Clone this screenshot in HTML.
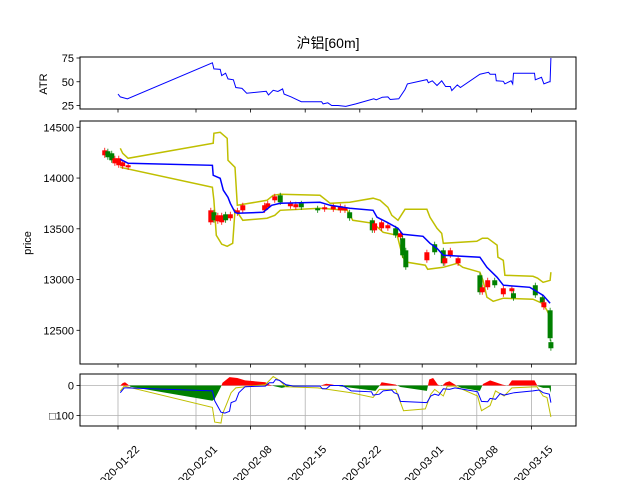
<!DOCTYPE html>
<html><head><meta charset="utf-8"><style>
body{margin:0;background:#fff;}
svg{display:block;font-family:"Liberation Sans","WenQuanYi Zen Hei",sans-serif;}
</style></head><body>
<svg id="chart" width="640" height="480" viewBox="0 0 640 480" xmlns="http://www.w3.org/2000/svg"></svg>
<script>
// ---- data ----
const xTickDays = [0, 10, 17, 24, 31, 39, 46, 53];
const xTickLabels = ["2020-01-22","2020-02-01","2020-02-08","2020-02-15","2020-02-22","2020-03-01","2020-03-08","2020-03-15"];
const atrTicks = [25, 50, 75];
const priceTicks = [12500, 13000, 13500, 14000, 14500];
const macdTicks = [0, -100];
const macdTickLabels = ["0", "□100"];

const atrDays = [0,0.3,1.2,12.1,12.3,13.1,13.3,13.8,14.1,14.8,15.1,15.9,16.5,19.0,19.3,19.9,20.5,21.1,21.3,22.2,22.7,23.5,26.1,26.3,26.9,27.4,28.2,29.2,30.5,32.8,33.1,33.9,34.6,34.9,36.0,36.8,37.1,39.6,39.8,40.3,40.9,41.5,42.0,42.6,42.8,43.5,43.9,46.4,47.5,47.7,48.4,48.5,49.4,49.6,50.4,50.6,50.7,53.4,53.5,54.3,54.6,55.3,55.4,55.5];
const atrValues = [37,34,32,70,63.5,63,56.5,59,53,52,44,43,38,40,36,41,39.7,42.5,37,34,32,29,29,26.7,27.8,25,25,24,26.7,32,31,33.7,34,31.3,32,41.8,47.7,52.3,49,51,46,51,45,45,40.7,46.7,44,58,60,58,58,51,50.5,47.7,51,47.7,59,59,52,54.7,47.7,50,50,75];

const candleDays = [-1.7,-1.3,-0.8,-0.4,0.1,0.6,1.3,11.9,12.3,12.8,13.3,13.8,14.4,15.3,16.0,18.8,19.2,20.1,20.8,22.1,22.8,23.5,25.6,26.5,27.6,28.5,29.1,29.7,32.6,32.9,33.8,34.6,35.6,36.2,36.5,36.9,39.6,40.6,41.7,41.9,42.6,43.6,46.4,46.7,47.4,48.3,49.4,50.5,50.7,53.5,54.4,54.6,55.4,55.5];
const candleOpen = [14224,14264,14244,14145,14126,14116,14106,13564,13663,13574,13564,13643,13604,13653,13682,13682,13712,13781,13830,13722,13712,13751,13702,13692,13692,13682,13682,13663,13584,13485,13505,13505,13505,13417,13407,13288,13190,13348,13288,13160,13239,13160,13042,12875,12924,12993,12855,12885,12865,12944,12826,12727,12697,12383];
const candleClose = [14273,14205,14175,14195,14195,14155,14126,13682,13584,13633,13633,13584,13643,13682,13732,13732,13751,13820,13761,13751,13742,13712,13682,13712,13722,13722,13712,13604,13485,13554,13564,13535,13436,13456,13239,13121,13269,13269,13160,13210,13288,13210,12875,12924,12993,12944,12914,12914,12816,12845,12776,12776,12422,12323];

const midDays = [0.3,1.3,12.1,12.2,13.1,13.5,14.1,14.4,15.0,15.3,18.6,19.7,20.8,25.9,27.2,29.7,32.7,33.2,34.5,35.9,36.5,39.1,40.0,40.9,41.7,46.4,47.3,48.6,49.4,52.8,54.5,55.4];
const midValues = [14185,14145,14126,14027,13998,13880,13810,13751,13663,13653,13663,13732,13751,13761,13732,13702,13682,13614,13564,13505,13446,13426,13357,13308,13239,13220,13121,13022,12944,12924,12845,12766];

const upDays = [0.3,0.6,1.3,12.2,12.3,13.1,14.0,14.1,15.0,15.3,19.1,19.9,20.8,25.9,27.2,29.7,32.7,33.6,34.6,35.1,35.9,36.8,39.6,40.0,40.9,41.5,41.7,46.0,46.7,47.4,48.6,48.7,49.4,49.6,53.2,53.8,54.5,55.4,55.5];
const upValues = [14293,14244,14195,14342,14441,14451,14392,14175,14106,13732,13781,13830,13840,13830,13751,13761,13801,13781,13712,13633,13584,13692,13692,13613,13505,13456,13357,13377,13407,13407,13338,13220,13190,13042,13032,13013,12973,12993,13072];

const lowDays = [0.3,12.1,12.3,12.6,13.3,14.0,14.7,15.0,15.4,16.0,19.1,20.1,20.8,25.9,29.4,30.1,32.7,34.0,35.8,36.5,37.1,39.4,39.7,41.7,43.5,44.2,46.4,46.8,47.3,48.1,49.4,53.2,54.4,55.0,55.4,55.5];
const lowValues = [14106,13909,13781,13436,13348,13328,13357,13682,13653,13584,13604,13633,13682,13702,13682,13584,13554,13466,13436,13220,13170,13141,13101,13121,13160,13121,13072,12993,12826,12786,12816,12806,12766,12697,12628,12432];

const macdBlueDays = [0.3,0.8,1.1,12.1,12.4,13.2,13.7,14.3,14.5,15.1,15.5,16.3,18.9,19.4,19.9,20.2,20.7,21.5,22.5,25.9,26.2,26.7,27.2,28.8,29.9,32.5,32.7,33.5,34.0,35.1,35.4,35.9,36.2,39.6,40.1,40.6,41.1,41.7,42.5,43.2,44.8,46.1,46.6,47.4,47.7,48.4,49.0,49.5,50.8,53.2,54.0,54.5,55.3,55.5];
const macdBlueValues = [-24,-8,-8,-18,-51,-89,-92,-86,-57,-51,-24,-4,-2,9,9,20,17,3,-2,-2,-11,-11,0,0,-18,-21,-32,-29,-18,-15,-24,-29,-53,-57,-35,-29,-33,-11,-13,-8,-15,-21,-53,-54,-43,-46,-27,-32,-24,-18,-15,-24,-29,-57];
const macdYellowDays = [0.3,0.8,12.1,12.4,13.2,13.4,14.0,14.5,15.1,16.3,18.9,19.9,20.7,21.5,25.6,29.9,32.7,33.5,35.6,36.6,39.4,40.1,40.6,41.7,42.2,43.2,46.1,46.6,47.7,48.4,49.5,50.5,53.7,54.5,55.0,55.5];
const macdYellowValues = [-18,-2,-73,-122,-125,-95,-57,-24,-8,-4,3,30,17,-4,-8,-24,-40,-13,-13,-84,-78,-29,-13,-35,-2,-2,-35,-84,-67,-18,-35,-8,-4,-35,-40,-105];
const histDays = [0.3,0.6,0.9,1.3,1.6,12.1,12.4,13.2,13.4,14.3,15.3,16.3,18.9,19.4,20.0,21.0,22.0,26.0,26.7,27.5,28.5,33.0,33.5,33.8,35.6,36.2,39.6,39.9,40.4,41.0,41.5,42.0,42.5,43.2,44.0,46.4,46.8,47.7,49.3,50.0,50.5,53.4,53.8,54.5,55.3,55.5];
const histValues = [0,8,11,3,-4,-51,-45,-4,9,28,25,17,11,3,-2,-8,-2,0,6,3,-3,-18,-2,11,3,-5,-18,20,25,3,-2,10,14,3,-8,-18,5,17,3,-1,17,17,-2,-8,-8,-24];

// ---- layout / axes ----
const L = 80, R = 576;
const xS = d => 118 + d * 7.8;
const yAtr = v => 58 + (75 - v) * 0.95;
const yPrice = p => 127.3 + (14500 - p) * 0.1015;
const yMacd = v => 385.5 - v * 0.30;
const NS = "http://www.w3.org/2000/svg";
const svg = document.getElementById('chart');
function mk(tag, attrs, parent) {
  const e = document.createElementNS(NS, tag);
  for (const k in attrs) e.setAttribute(k, attrs[k]);
  (parent || svg).appendChild(e);
  return e;
}
function pts(ds, vs, f) { return ds.map((d, i) => xS(d).toFixed(1) + ',' + f(vs[i]).toFixed(1)).join(' '); }

// title
let t = mk('text', {x: 328, y: 48, 'text-anchor': 'middle', 'font-size': 14});
t.textContent = '沪铝[60m]';



const panels = [
  {name: 'atr', top: 57, bot: 109},
  {name: 'price', top: 121, bot: 364},
  {name: 'macd', top: 374, bot: 426}
];

// macd grid
const gMacdGrid = mk('g', {stroke: '#b0b0b0', 'stroke-width': 0.8});


xTickDays.forEach(d => mk('line', {x1: xS(d), x2: xS(d), y1: 374, y2: 426}, gMacdGrid));
macdTicks.forEach(v => mk('line', {x1: L, x2: R, y1: yMacd(v), y2: yMacd(v)}, gMacdGrid));

// x ticks on all panels
panels.forEach(p => {
  const g = mk('g', {stroke: '#000', 'stroke-width': 0.8});
  
  
  xTickDays.forEach(d => mk('line', {x1: xS(d), x2: xS(d), y1: p.bot, y2: p.bot + 3.5}, g));
});
// x tick labels (centred on tick, rotated 45deg, clipped by page bottom)
xTickDays.forEach((d, i) => {
  const tx = mk('text', {x: 0, y: 0, 'text-anchor': 'middle', 'font-size': 11, transform: `translate(${xS(d) + 2},${470}) rotate(-45)`});
  tx.textContent = xTickLabels[i];
  
  
});

// y ticks
function yTicks(vals, labels, f, name) {
  const g = mk('g', {});
  
  
  vals.forEach((v, i) => {
    mk('line', {x1: L - 3.5, x2: L, y1: f(v), y2: f(v), stroke: '#000', 'stroke-width': 0.8}, g);
    const tx = mk('text', {x: L - 6, y: f(v) + 4, 'text-anchor': 'end', 'font-size': 11}, g);
    tx.textContent = labels[i];
  });
}
yTicks(atrTicks, atrTicks.map(String), yAtr, 'atr-y-ticks');
yTicks(priceTicks, priceTicks.map(String), yPrice, 'price-y-ticks');
yTicks(macdTicks, macdTickLabels, yMacd, 'macd-y-ticks');

// axis labels
t = mk('text', {x: 0, y: 0, 'text-anchor': 'middle', 'font-size': 11, transform: 'translate(47,84) rotate(-90)'});
t.textContent = 'ATR';


t = mk('text', {x: 0, y: 0, 'text-anchor': 'middle', 'font-size': 11, transform: 'translate(31,243) rotate(-90)'});
t.textContent = 'price';



// clip paths
const defs = mk('defs', {});
panels.forEach(p => {
  const c = mk('clipPath', {id: 'clip-' + p.name}, defs);
  mk('rect', {x: L, y: p.top, width: R - L, height: p.bot - p.top}, c);
});
const cPos = mk('clipPath', {id: 'clip-pos'}, defs);
mk('rect', {x: L, y: 374, width: R - L, height: yMacd(0) - 374}, cPos);
const cNeg = mk('clipPath', {id: 'clip-neg'}, defs);
mk('rect', {x: L, y: yMacd(0), width: R - L, height: 426 - yMacd(0)}, cNeg);

// ATR line
let e = mk('polyline', {points: pts(atrDays, atrValues, yAtr), fill: 'none', stroke: '#0000ff', 'stroke-width': 1, 'clip-path': 'url(#clip-atr)'});



// price bands
e = mk('polyline', {points: pts(upDays, upValues, yPrice), fill: 'none', stroke: '#bfbf00', 'stroke-width': 1.5});


e = mk('polyline', {points: pts(lowDays, lowValues, yPrice), fill: 'none', stroke: '#bfbf00', 'stroke-width': 1.5});



// candles
const gC = mk('g', {});


candleDays.forEach((d, i) => {
  const o = candleOpen[i], c = candleClose[i];
  const col = c >= o ? '#ff0000' : '#008000';
  const hi = Math.max(o, c) + 25, lo = Math.min(o, c) - 25;
  const x = xS(d);
  mk('line', {x1: x, x2: x, y1: yPrice(hi), y2: yPrice(lo), stroke: col, 'stroke-width': 0.8}, gC);
  const yt = yPrice(Math.max(o, c)), yb = yPrice(Math.min(o, c));
  const b = mk('rect', {x: x - 2.5, y: yt, width: 5, height: Math.max(1.5, yb - yt), fill: col}, gC);
  
  
});

e = mk('polyline', {points: pts(midDays, midValues, yPrice), fill: 'none', stroke: '#0000ff', 'stroke-width': 1.5});



// macd histogram fill
const histPts = xS(histDays[0]) + ',' + yMacd(0) + ' ' + pts(histDays, histValues, yMacd) + ' ' + xS(histDays[histDays.length - 1]) + ',' + yMacd(0);
e = mk('polygon', {points: histPts, fill: '#ff0000', 'clip-path': 'url(#clip-pos)'});


e = mk('polygon', {points: histPts, fill: '#008000', 'clip-path': 'url(#clip-neg)'});


e = mk('polyline', {points: pts(macdYellowDays, macdYellowValues, yMacd), fill: 'none', stroke: '#bfbf00', 'stroke-width': 1, 'clip-path': 'url(#clip-macd)'});


e = mk('polyline', {points: pts(macdBlueDays, macdBlueValues, yMacd), fill: 'none', stroke: '#0000ff', 'stroke-width': 1, 'clip-path': 'url(#clip-macd)'});



// frames
panels.forEach(p => {
  const r = mk('rect', {x: L, y: p.top, width: R - L, height: p.bot - p.top, fill: 'none', stroke: '#000', 'stroke-width': 1});
  
  
});
</script>
</body></html>
